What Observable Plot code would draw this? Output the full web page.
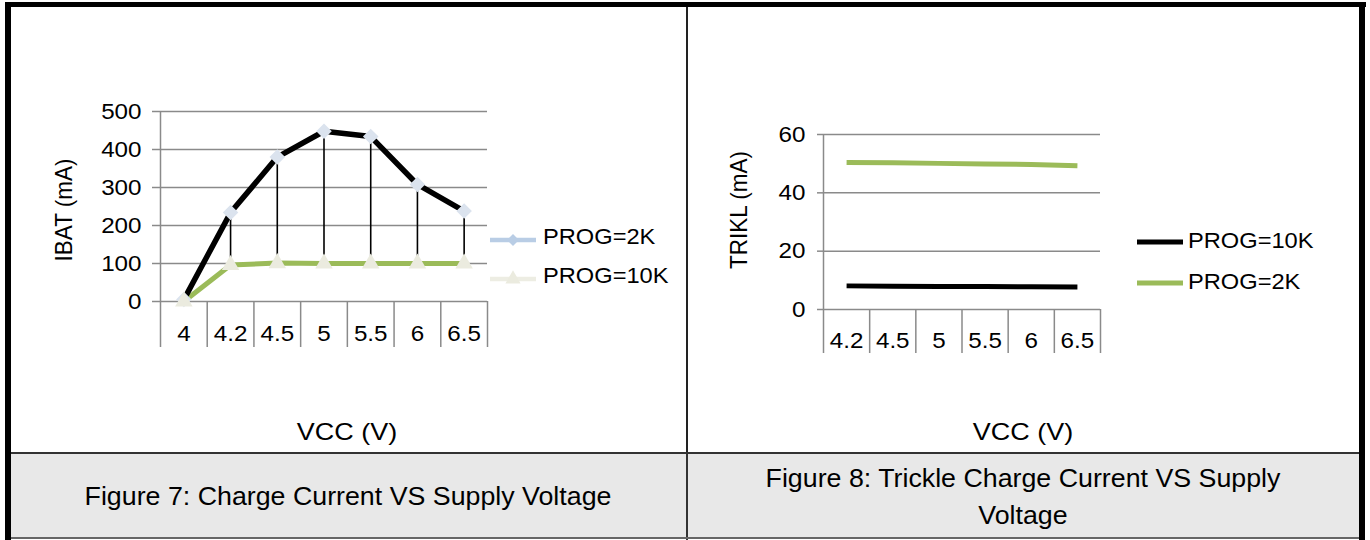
<!DOCTYPE html>
<html><head><meta charset="utf-8">
<script src="https://cdn.jsdelivr.net/npm/d3@7"></script>
<script src="https://cdn.jsdelivr.net/npm/@observablehq/plot@0.6"></script>
<style>
body{margin:0;background:#fff;font-family:"Liberation Sans",Arial,sans-serif;}
#page{position:relative;width:1370px;height:540px;overflow:hidden;background:#fff;}
.box{position:absolute;}
.txt{position:absolute;white-space:nowrap;color:#000;line-height:1;}
</style></head><body><div id="page"></div>
<script>
// ---- Figure 7 data ----
const cats1 = ["4", "4.2", "4.5", "5", "5.5", "6", "6.5"];
const ibat2k = [5, 234, 380, 448, 434, 308, 238];
const ibat10k = [0, 96, 101, 100, 100, 100, 100];
const yTicks1 = [0, 100, 200, 300, 400, 500];
// ---- Figure 8 data ----
const cats2 = ["4.2", "4.5", "5", "5.5", "6", "6.5"];
const trikl10k = [8.1, 8.0, 7.9, 7.9, 7.8, 7.7];
const trikl2k = [50.4, 50.3, 50.1, 49.9, 49.7, 49.3];
const yTicks2 = [0, 20, 40, 60];

const page = document.getElementById("page");
const FONT = '"Liberation Sans", Arial, sans-serif';
const SX = 1.1; // horizontal stretch of the chart text

function box(l, t, w, h, c) {
  const d = document.createElement("div");
  d.className = "box";
  Object.assign(d.style, {left: l + "px", top: t + "px", width: w + "px", height: h + "px", background: c});
  page.appendChild(d);
}
function text(str, x, y, size, opts = {}) {
  const d = document.createElement("div");
  d.className = "txt";
  d.innerHTML = str;
  const s = opts.sx ?? SX;
  d.style.left = x + "px"; d.style.top = y + "px"; d.style.fontSize = size + "px";
  if (opts.align === "left") {
    d.style.transformOrigin = "left center";
    d.style.transform = `translateY(-50%) scaleX(${s})`;
  } else if (opts.rotate) {
    d.style.transform = `translate(-50%,-50%) scaleX(${s}) rotate(-90deg)`;
  } else {
    d.style.transform = `translate(-50%,-50%) scaleX(${s})`;
    if (opts.center) d.style.textAlign = "center";
    if (opts.lh) d.style.lineHeight = opts.lh + "px";
  }
  page.appendChild(d);
}
function stretch(svg) {
  svg.querySelectorAll("text").forEach(t => {
    const tr = t.getAttribute("transform") || "";
    t.setAttribute("transform", tr + ` scale(${SX},1)`);
  });
}
function place(el, l, t) {
  el.style.position = "absolute"; el.style.left = l + "px"; el.style.top = t + "px";
  page.appendChild(el);
}
function swatch(x, y, color, width, symbol, symFill, symSize) {
  const ns = "http://www.w3.org/2000/svg";
  const s = document.createElementNS(ns, "svg");
  s.setAttribute("width", 50); s.setAttribute("height", 24);
  s.style.position = "absolute"; s.style.left = x + "px"; s.style.top = (y - 12) + "px";
  const ln = document.createElementNS(ns, "line");
  ln.setAttribute("x1", 0); ln.setAttribute("x2", 46); ln.setAttribute("y1", 12); ln.setAttribute("y2", 12);
  ln.setAttribute("stroke", color); ln.setAttribute("stroke-width", width);
  s.appendChild(ln);
  if (symbol) {
    const p = document.createElementNS(ns, "path");
    p.setAttribute("d", d3.symbol(symbol, symSize)());
    p.setAttribute("transform", "translate(23,12)");
    p.setAttribute("fill", symFill);
    s.appendChild(p);
  }
  page.appendChild(s);
}

// ---- table frame ----
box(11, 454, 1348, 84, "#e8e8e8");
box(5, 2, 1361, 5, "#000");
box(5, 2, 6, 538, "#000");
box(1359, 2, 6, 538, "#000");
box(686, 7, 2, 447, "#222");
box(686, 454, 2, 86, "#333");
box(11, 452, 1348, 2, "#333");
box(11, 537, 1348, 2, "#666");

const style = {fontFamily: FONT, fontSize: "22px", color: "#000", background: "transparent", overflow: "visible"};
const GRID = "#8a8a8a";

// ---- Figure 7 chart ----
const rows1 = cats1.map((c, i) => ({i, c, a: ibat2k[i], b: ibat10k[i]}));
const idx1 = rows1.map(d => d.i);
const sep1 = [...idx1.map(i => i - 0.5), idx1.length - 0.5];
const p1 = Plot.plot({
  width: 687, height: 452,
  marginLeft: 160, marginRight: 200, marginTop: 111, marginBottom: 151,
  x: {type: "linear", domain: [-0.5, cats1.length - 0.5]},
  y: {domain: [0, 500]},
  style,
  marks: [
    Plot.gridY(yTicks1, {stroke: GRID, strokeOpacity: 1, strokeWidth: 1.5}),
    Plot.axisY(yTicks1, {tickSize: 8, tickPadding: 11, stroke: GRID, strokeWidth: 1.5, fill: "#000", label: null, tickFormat: d => String(d)}),
    Plot.axisX(sep1, {tickSize: 46, tickFormat: () => "", stroke: GRID, strokeWidth: 1.5, label: null}),
    Plot.axisX(idx1, {tickSize: 0, tickPadding: 24, tickFormat: i => cats1[i], fill: "#000", label: null}),
    Plot.ruleX([sep1[0]], {stroke: GRID, strokeWidth: 1.5}),
    Plot.ruleX(rows1, {x: "i", y1: "b", y2: "a", stroke: "#000", strokeWidth: 1.6}),
    Plot.line(rows1, {x: "i", y: "b", stroke: "#9bbb59", strokeWidth: 5}),
    Plot.line(rows1, {x: "i", y: "a", stroke: "#000", strokeWidth: 5.5}),
    Plot.dot(rows1, {x: "i", y: "a", symbol: "diamond2", r: 7, fill: "#dbe3ee", stroke: "none"}),
    Plot.dot(rows1, {x: "i", y: "b", symbol: "triangle", r: 6.5, fill: "#ebebdf", stroke: "none"})
  ]
});
stretch(p1);
place(p1, 0, 0);

text("IBAT (mA)", 65, 210, 22.5, {rotate: true});
text("VCC (V)", 347, 432, 24.5);
swatch(490, 240, "#b9cde5", 4.5, d3.symbolDiamond2, "#b9cde5", 90);
swatch(490, 279, "#ededE3", 4.5, d3.symbolTriangle, "#ebebdf", 100);
text("PROG=2K", 543, 238, 21.5, {align: "left"});
text("PROG=10K", 543, 277, 21.5, {align: "left"});

// ---- Figure 8 chart ----
const rows2 = cats2.map((c, i) => ({i, c, a: trikl10k[i], b: trikl2k[i]}));
const idx2 = rows2.map(d => d.i);
const sep2 = [...idx2.map(i => i - 0.5), idx2.length - 0.5];
const p2 = Plot.plot({
  width: 672, height: 452,
  marginLeft: 135, marginRight: 260, marginTop: 134, marginBottom: 143,
  x: {type: "linear", domain: [-0.5, cats2.length - 0.5]},
  y: {domain: [0, 60]},
  style,
  marks: [
    Plot.gridY(yTicks2, {stroke: GRID, strokeOpacity: 1, strokeWidth: 1.5}),
    Plot.axisY(yTicks2, {tickSize: 6, tickPadding: 12, stroke: GRID, strokeWidth: 1.5, fill: "#000", label: null, tickFormat: d => String(d)}),
    Plot.axisX(sep2, {tickSize: 44, tickFormat: () => "", stroke: GRID, strokeWidth: 1.5, label: null}),
    Plot.axisX(idx2, {tickSize: 0, tickPadding: 23, tickFormat: i => cats2[i], fill: "#000", label: null}),
    Plot.ruleX([sep2[0]], {stroke: GRID, strokeWidth: 1.5}),
    Plot.line(rows2, {x: "i", y: "a", stroke: "#000", strokeWidth: 5, strokeLinecap: "butt"}),
    Plot.line(rows2, {x: "i", y: "b", stroke: "#9bbb59", strokeWidth: 5, strokeLinecap: "butt"})
  ]
});
stretch(p2);
place(p2, 688, 0);

text("TRIKL (mA)", 740, 210, 22.5, {rotate: true});
text("VCC (V)", 1023, 432, 24.5);
swatch(1137, 242, "#000", 5);
swatch(1137, 283, "#9bbb59", 5);
text("PROG=10K", 1188, 242, 21.5, {align: "left"});
text("PROG=2K", 1188, 283, 21.5, {align: "left"});

// ---- captions ----
text("Figure 7: Charge Current VS Supply Voltage", 348, 497, 25.5, {sx: 1.05});
text("Figure 8: Trickle Charge Current VS Supply<br>Voltage", 1023, 497, 25.5, {sx: 1.05, center: true, lh: 37});
</script></body></html>
